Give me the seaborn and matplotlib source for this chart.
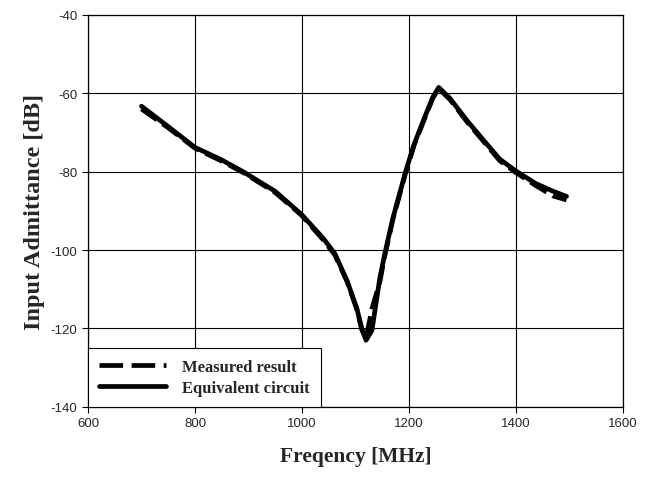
import matplotlib
matplotlib.use('agg')
import matplotlib.pyplot as plt
import seaborn as sns
import pandas as pd

freq = [700, 750, 800, 850, 890, 950, 1000, 1040, 1062, 1085, 1103, 1112, 1120,
        1131, 1146, 1155, 1170, 1194, 1210, 1230, 1245, 1256, 1277, 1309, 1340,
        1370, 1400, 1437, 1470, 1495]
equiv = [-63.3, -68.5, -73.8, -77.0, -80.0, -85.0, -91.0, -97.0, -101.0, -108.0,
         -115.0, -120.0, -123.0, -120.5, -107.0, -101.0, -92.0, -80.0, -73.0,
         -66.0, -61.0, -58.5, -61.3, -67.0, -72.0, -76.8, -79.8, -83.0, -85.0, -86.3]
measured = [-64.0, -68.8, -74.0, -77.3, -80.2, -85.3, -91.2, -97.4, -101.3, -108.2,
            -115.2, -120.3, -122.5, -115.0, -108.0, -101.5, -92.3, -80.3, -73.2,
            -66.3, -61.2, -58.8, -61.6, -67.3, -72.3, -77.2, -80.2, -83.5, -86.2, -87.2]

df = pd.concat([
    pd.DataFrame({'freq': freq, 'val': measured, 'kind': 'Measured result'}),
    pd.DataFrame({'freq': freq, 'val': equiv, 'kind': 'Equivalent circuit'}),
])

sns.set_style('white')
plt.rcParams['axes.unicode_minus'] = False
fig = plt.figure(figsize=(6.52, 4.81), dpi=100)
ax = fig.add_axes([0.135, 0.152, 0.82, 0.815])

sns.lineplot(data=df, x='freq', y='val', hue='kind', style='kind',
             palette=['black', 'black'], dashes=[(4, 1.5), ''],
             linewidth=3.4, ax=ax, sort=False)

ax.set_xlim(600, 1600)
ax.set_ylim(-140, -40)
ax.set_xticks(range(600, 1601, 200))
ax.set_yticks(range(-140, -39, 20))
ax.grid(True, color='black', linewidth=0.8)
for s in ax.spines.values():
    s.set_color('black')
    s.set_linewidth(0.9)
ax.tick_params(axis='both', which='both', direction='out', length=4, color='black',
               labelsize=9.5, left=True, bottom=True)
for lab in ax.get_xticklabels() + ax.get_yticklabels():
    lab.set_family('Liberation Sans')

ax.set_xlabel('Freqency [MHz]', family='Liberation Serif', fontweight='bold',
              fontsize=15.5, labelpad=12)
ax.set_ylabel('Input Admittance [dB]', family='Liberation Serif', fontweight='bold',
              fontsize=17.5, labelpad=4)

leg = ax.legend(loc='lower left', borderaxespad=0, fancybox=False, framealpha=1,
                edgecolor='black', handlelength=4.0, handletextpad=1.0,
                borderpad=0.65, labelspacing=0.3,
                prop={'family': 'Liberation Serif', 'weight': 'bold', 'size': 12})
leg.get_frame().set_linewidth(0.8)
leg.set_title(None)
leg.get_lines()[0].set_dashes((5, 1.8))

fig.savefig('out.png', dpi=100)
